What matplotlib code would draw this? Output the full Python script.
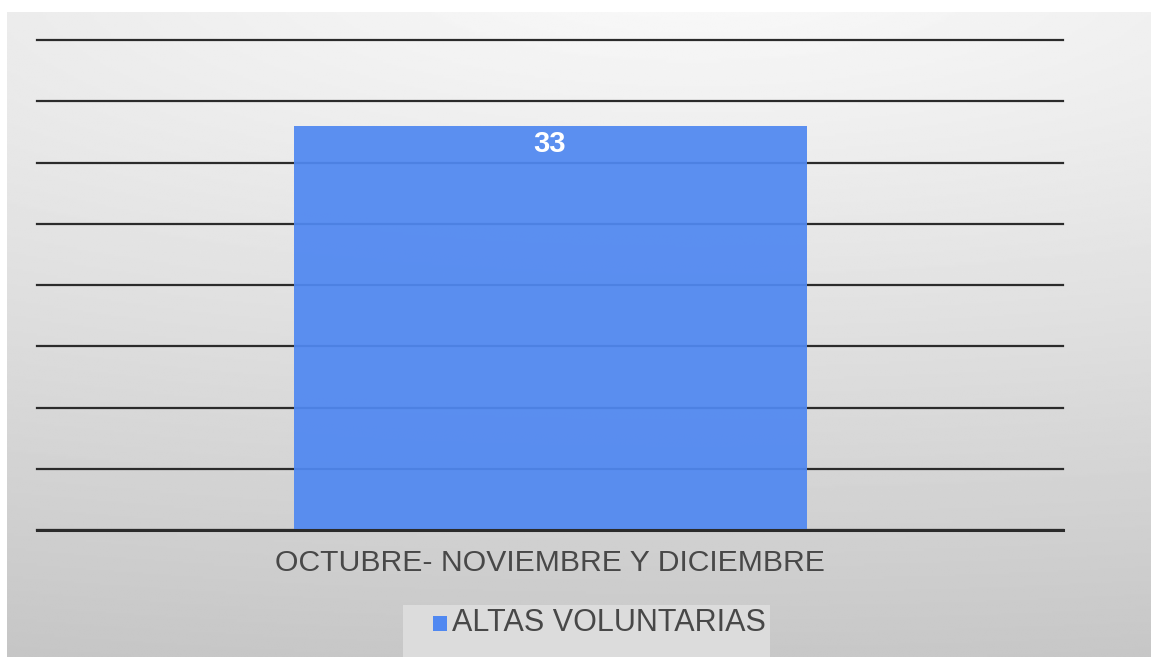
import numpy as np
import matplotlib

matplotlib.use("Agg")
import matplotlib.pyplot as plt
from matplotlib.patches import Rectangle

categories = ["OCTUBRE- NOVIEMBRE Y DICIEMBRE"]
values = [33]
series_name = "ALTAS VOLUNTARIAS"
y_ticks = [0, 5, 10, 15, 20, 25, 30, 35, 40]

BAR_COLOR = "#5088f1"
FONT = ["Liberation Sans", "DejaVu Sans"]

W, H = 1151, 657
fig = plt.figure(figsize=(W / 100, H / 100), dpi=100)
fig.patch.set_facecolor("white")

# gradient background panel (white strip on top and left like the screenshot)
bg = fig.add_axes([7 / W, 0, 1 - 7 / W, 1 - 12 / H])
gx, gy = np.meshgrid(np.linspace(0, 1, 400), np.linspace(0, 1, 300))
r = np.sqrt((0.5 * (gx - 0.6)) ** 2 + (gy + 0.05) ** 2)
v = np.clip((250 - 48 * r) / 255, 0, 1)
bg.imshow(v, cmap="gray", vmin=0, vmax=1, aspect="auto", extent=(0, 1, 1, 0))
bg.set_axis_off()

ax = fig.add_axes([37 / W, 1 - 530 / H, (1063 - 37) / W, (530 - 40) / H])
ax.patch.set_alpha(0)
ax.set_xlim(-1, 1)
ax.set_ylim(0, 40)
ax.set_yticks(y_ticks)
ax.yaxis.grid(True, color="#2b2b2b", linewidth=1.6, zorder=1)
for gl in ax.get_ygridlines():
    gl.set_clip_on(False)
ax.set_axisbelow(True)
for s in ["top", "right", "left"]:
    ax.spines[s].set_visible(False)
ax.spines["bottom"].set_color("#2b2b2b")
ax.spines["bottom"].set_linewidth(2.2)
ax.tick_params(left=False, labelleft=False, bottom=False)

xpos = np.arange(len(categories))
bars = ax.bar(xpos, values, width=1.0, color=BAR_COLOR, alpha=0.93, zorder=2,
              label=series_name)
for b, val in zip(bars, values):
    ax.text(b.get_x() + b.get_width() / 2, val - 1.5, str(val), ha="center",
            va="center", color="white", fontsize=21, fontweight="bold",
            family=FONT, zorder=3)

ax.set_xticks(xpos)
ax.set_xticklabels(categories, family=FONT, fontsize=21.7, color="#484848")
ax.tick_params(axis="x", pad=10)

# legend box
lx0, lx1, ly0 = 403 / W, 770 / W, 1 - 605 / H
fig.patches.append(Rectangle((lx0, 0), lx1 - lx0, ly0, transform=fig.transFigure,
                             facecolor="#dcdcdc", edgecolor="none", zorder=0.5))
fig.patches.append(Rectangle((433 / W, 1 - 631 / H), 14 / W, 15 / H,
                             transform=fig.transFigure, facecolor=BAR_COLOR,
                             edgecolor="none"))
fig.text(452 / W, 1 - 623 / H, series_name, ha="left", va="center",
         family=FONT, fontsize=22, color="#484848")

fig.savefig("out.png", dpi=100)
